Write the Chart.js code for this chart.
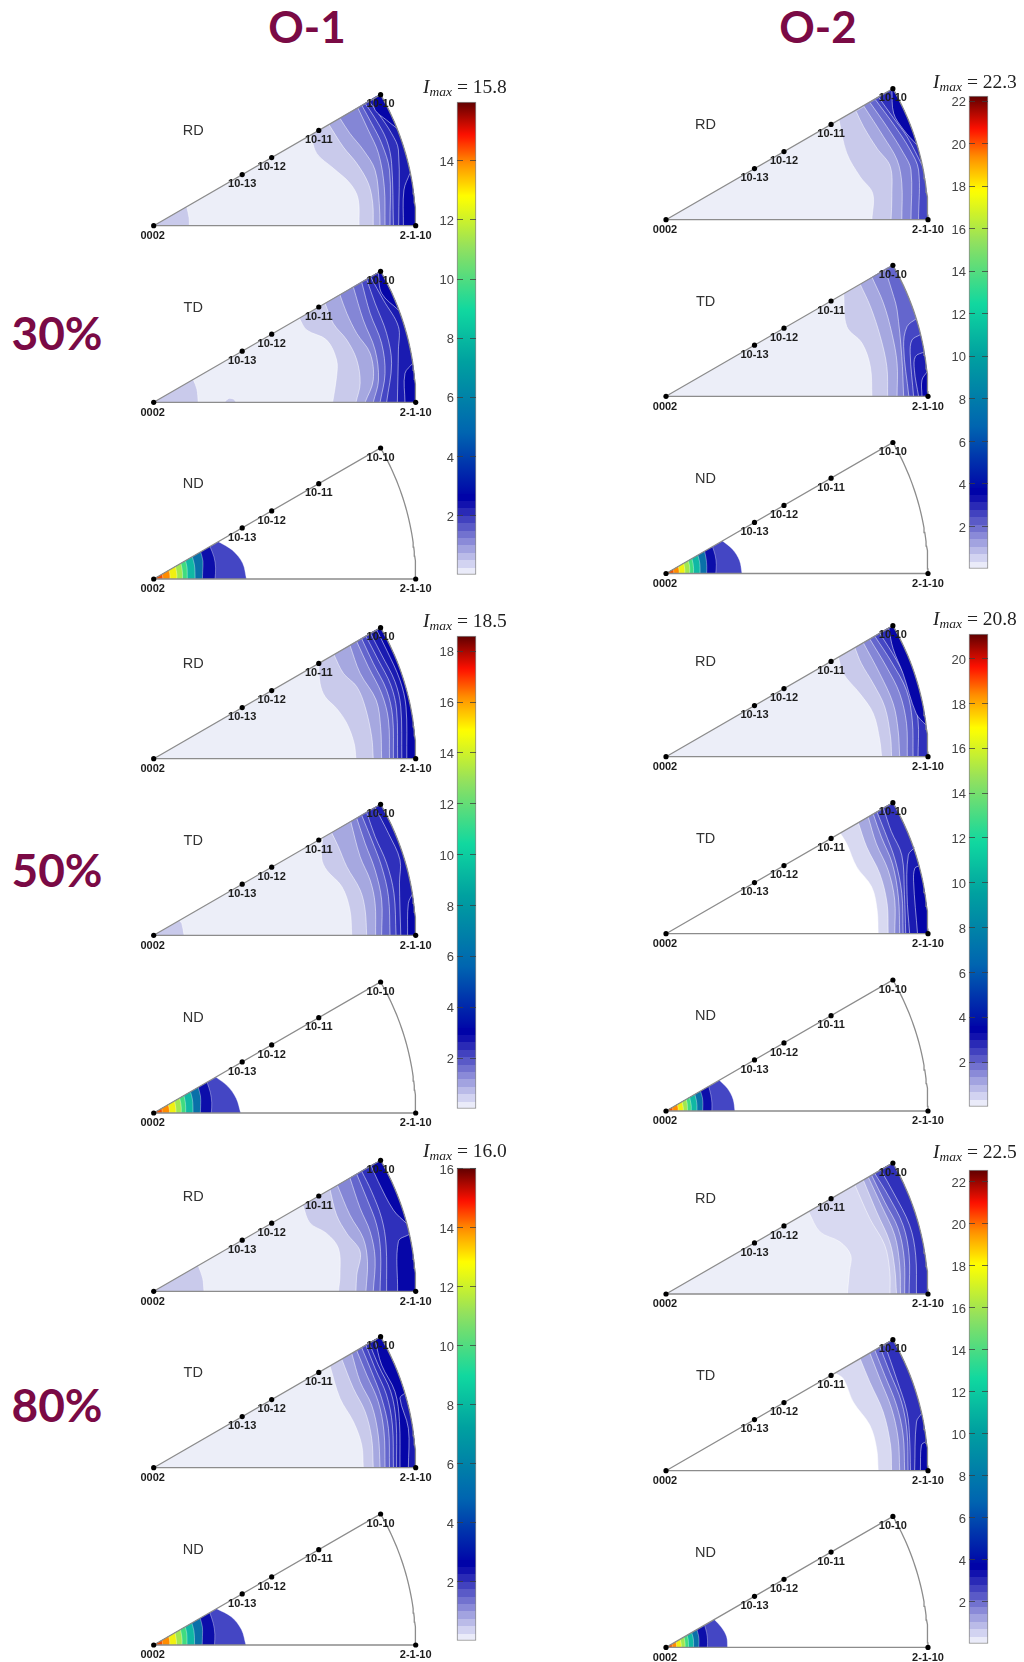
<!DOCTYPE html>
<html>
<head>
<meta charset="utf-8">
<title>Inverse pole figures O-1 / O-2</title>
<script src="https://cdn.jsdelivr.net/npm/chart.js@4/dist/chart.umd.js"></script>
<style>
  html, body { margin: 0; background: #fff; }
  #page { position: relative; width: 1024px; height: 1662px; overflow: hidden; }
  #page canvas { position: absolute; filter: blur(.4px); }
  .head { position: absolute; font: bold 46px Lato, sans-serif; color: #7a0a45; line-height: 46px; transform: translate(-50%, -50%); }
  .head.col { font-size: 44px; }
  .imax { position: absolute; font: 19.5px "Liberation Serif", serif; color: #222; line-height: 20px; white-space: nowrap; }
  .imax sub { font-size: 13.5px; font-style: italic; line-height: 0; vertical-align: -3px; }
</style>
</head>
<body>
<div id="page"></div>
<script>
// contour rows: [shade level, [u,v, u,v, ...], closing]. u,v are read off the figure, unit = radius of the arc
// closing is the arc side by default, 'origin' goes back to 0002, 'patch' closes on itself
const o1_30_rd = [
  [1, [.136,0, .135,.03, .126,.073], 'origin'],
  [1, [.784,0, .78,.104, .749,.162, .686,.219, .622,.276, .60,.346]],
  [2, [.838,0, .836,.085, .819,.162, .775,.238, .724,.30, .669,.386]],
  [3, [.864,0, .861,.085, .845,.212, .80,.289, .749,.352, .711,.41]],
  [4, [.883,0, .88,.149, .858,.276, .819,.365, .779,.45]],
  [5, [.902,0, .90,.212, .87,.314, .832,.39, .794,.46]],
  [6, [.915,0, .908,.238, .889,.327, .845,.41, .807,.467]],
  [7, [.935,0, .934,.289, .908,.352, .857,.429, .823,.473]],
  [8, [.838,.484, .845,.441, .889,.403, .928,.372]],
  [8, [.953,0, .955,.136, .978,.20]]
];
const o1_30_td = [
  [1, [.17,0, .165,.05, .151,.087], 'origin'],
  [1, [.27,0, .285,.014, .305,.012, .315,0], 'patch'],
  [1, [.683,0, .698,.098, .698,.162, .66,.238, .584,.276, .556,.32]],
  [2, [.772,0, .788,.073, .775,.162, .737,.238, .686,.30, .654,.378]],
  [3, [.807,0, .838,.085, .826,.187, .775,.263, .737,.34, .711,.41]],
  [4, [.838,0, .858,.085, .845,.20, .80,.314, .762,.44]],
  [5, [.864,0, .883,.11, .87,.225, .826,.34, .794,.458]],
  [6, [.889,0, .908,.149, .889,.263, .845,.378, .813,.469]],
  [7, [.93,0, .934,.20, .934,.289, .877,.39, .828,.478]],
  [8, [.857,.495, .87,.416, .934,.352]],
  [8, [.959,0, .959,.11, .989,.149]]
];
const o1_30_nd = [
  [.354,.345,.32,.285], [.234,.24,.245,.248], [.186,.19,.2,.207], [.158,.16,.165,.17],
  [.128,.13,.135,.14], [.11,.112,.115,.12], [.088,.09,.092,.096], [.062,.063,.065,.067], [.035,.035,.036,.037]
];
const o2_30_rd = [
  [1, [.786,0, .789,.10, .741,.164, .69,.254, .66,.381]],
  [2, [.859,0, .862,.088, .856,.203, .805,.273, .754,.355, .726,.413]],
  [3, [.90,0, .90,.139, .882,.228, .83,.317, .754,.435]],
  [4, [.935,0, .935,.19, .907,.253, .843,.355, .78,.445]],
  [5, [.964,0, .964,.19, .932,.266, .875,.355, .80,.457]],
  [6, [.811,.468, .869,.387, .92,.317, .98,.203]],
  [8, [.862,.497, .869,.406, .907,.343, .958,.285]]
];
const o2_30_td = [
  [1, [.786,0, .78,.113, .748,.203, .69,.266, .678,.391]],
  [2, [.846,0, .843,.113, .818,.228, .78,.343, .741,.428]],
  [3, [.882,0, .882,.126, .862,.241, .83,.355, .786,.455]],
  [4, [.907,0, .90,.152, .882,.33, .869,.381, .837,.483]],
  [5, [.927,0, .907,.19, .92,.266, .958,.298]],
  [6, [.945,0, .932,.164, .939,.215, .97,.235]],
  [7, [.964,0, .948,.10, .952,.152, .988,.17]],
  [8, [.977,0, .977,.062, .997,.094]]
];
const o2_30_nd = [
  [.29,.285,.27,.249], [.19,.195,.2,.205], [.155,.158,.163,.17], [.13,.132,.136,.14],
  [.105,.107,.11,.114], [.09,.092,.095,.098], [.072,.073,.075,.078], [.05,.051,.052,.054], [.03,.03,.031,.032]
];
const o1_50_rd = [
  [1, [.772,0, .765,.059, .737,.135, .698,.192, .654,.237, .635,.288, .63,.364]],
  [2, [.838,0, .832,.084, .807,.198, .775,.275, .724,.326, .688,.397]],
  [3, [.87,0, .866,.122, .849,.224, .788,.326, .749,.433]],
  [4, [.90,0, .896,.148, .87,.249, .819,.351, .775,.447]],
  [5, [.915,0, .912,.16, .889,.262, .838,.364, .794,.458]],
  [6, [.931,0, .927,.186, .905,.281, .857,.377, .81,.468]],
  [7, [.947,0, .943,.198, .921,.294, .87,.396, .828,.478]],
  [8, [.966,0, .963,.198, .94,.30, .889,.415, .851,.491]]
];
const o1_50_td = [
  [1, [.116,0, .107,.046, .098,.056], 'origin'],
  [1, [.756,0, .749,.097, .718,.186, .66,.249, .641,.294, .645,.372]],
  [2, [.813,0, .807,.097, .788,.173, .737,.262, .705,.338, .679,.392]],
  [3, [.847,0, .845,.122, .826,.211, .788,.30, .752,.434]],
  [4, [.87,0, .87,.135, .845,.249, .807,.351, .775,.447]],
  [5, [.902,0, .896,.148, .87,.262, .832,.364, .794,.458]],
  [6, [.925,0, .917,.16, .889,.275, .845,.377, .813,.469]],
  [7, [.943,0, .938,.20, .94,.288, .896,.389, .845,.488]],
  [8, [.969,0, .972,.122, .989,.16]]
];
const o1_50_nd = [
  [.332,.32,.30,.274], [.22,.225,.23,.235], [.178,.182,.19,.196], [.15,.152,.157,.162],
  [.122,.124,.128,.133], [.105,.107,.11,.114], [.085,.086,.088,.092], [.06,.061,.062,.064], [.033,.033,.034,.035]
];
const o2_50_rd = [
  [1, [.823,0, .816,.063, .791,.165, .74,.241, .677,.317, .658,.38]],
  [2, [.861,0, .857,.076, .835,.19, .791,.279, .746,.355, .721,.416]],
  [3, [.892,0, .886,.101, .867,.203, .816,.317, .753,.435]],
  [4, [.921,0, .918,.127, .892,.241, .842,.342, .778,.449]],
  [5, [.943,0, .94,.139, .918,.253, .861,.361, .797,.46]],
  [6, [.962,0, .962,.139, .937,.253, .88,.368, .816,.471]],
  [8, [.85,.49, .867,.412, .905,.317, .955,.165, .993,.12]]
];
const o2_50_td = [
  [9, [.81,0, .806,.09, .785,.179, .728,.255, .69,.343, .665,.384]],
  [2, [.848,0, .844,.115, .816,.229, .766,.331, .734,.424]],
  [3, [.873,0, .873,.128, .848,.242, .803,.343, .772,.445]],
  [4, [.892,0, .887,.14, .864,.267, .822,.369, .791,.457]],
  [5, [.905,0, .90,.153, .875,.28, .835,.39, .805,.465]],
  [6, [.915,0, .91,.15, .90,.30, .86,.39, .83,.479]],
  [7, [.93,0, .92,.15, .925,.30, .95,.33]],
  [8, [.96,0, .945,.2, .95,.25, .97,.26]]
];
const o2_50_nd = [
  [.263,.26,.25,.235], [.175,.178,.182,.188], [.14,.143,.148,.152], [.118,.12,.123,.127],
  [.096,.098,.1,.104], [.082,.083,.086,.089], [.066,.067,.068,.071], [.046,.047,.048,.05], [.026,.026,.027,.028]
];
const o1_80_rd = [
  [1, [.192,0, .187,.05, .17,.098], 'origin'],
  [1, [.705,0, .711,.062, .705,.164, .66,.221, .597,.26, .569,.328]],
  [2, [.772,0, .775,.062, .788,.151, .737,.221, .698,.291, .673,.388]],
  [3, [.81,0, .816,.113, .80,.202, .749,.291, .701,.405]],
  [4, [.838,0, .845,.126, .826,.228, .788,.317, .749,.433]],
  [5, [.864,0, .866,.151, .851,.253, .813,.355, .775,.447]],
  [6, [.889,0, .887,.177, .87,.279, .832,.38, .794,.458]],
  [8, [.83,.479, .857,.419, .915,.31, .966,.258]],
  [8, [.931,0, .934,.19, .975,.217]]
];
const o1_80_td = [
  [1, [.80,0, .794,.087, .762,.176, .711,.265, .673,.388]],
  [2, [.838,0, .832,.112, .807,.214, .762,.303, .718,.414]],
  [3, [.864,0, .857,.125, .832,.239, .788,.328, .756,.436]],
  [4, [.883,0, .879,.137, .857,.252, .813,.354, .775,.447]],
  [5, [.90,0, .896,.15, .87,.265, .832,.366, .794,.458]],
  [6, [.915,0, .911,.163, .889,.277, .845,.379, .81,.468]],
  [7, [.927,0, .925,.176, .905,.29, .857,.392, .823,.475]],
  [8, [.94,0, .938,.176, .921,.29, .87,.392, .845,.488]],
  [7, [.972,0, .972,.15, .94,.265, .959,.285]]
];
const o1_80_nd = [
  [.352,.34,.315,.277], [.232,.237,.242,.247], [.185,.189,.198,.205], [.156,.158,.163,.168],
  [.127,.129,.134,.139], [.108,.11,.113,.118], [.087,.088,.09,.094], [.061,.062,.064,.066], [.034,.034,.035,.036]
];
const o2_80_rd = [
  [9, [.692,0, .70,.085, .705,.148, .664,.199, .588,.237, .544,.314]],
  [1, [.855,0, .854,.085, .835,.186, .778,.288, .721,.416]],
  [2, [.88,0, .873,.098, .854,.199, .804,.313, .753,.435]],
  [3, [.895,0, .892,.11, .873,.224, .822,.338, .772,.446]],
  [4, [.911,0, .909,.136, .886,.25, .835,.351, .785,.453]],
  [5, [.928,0, .928,.148, .905,.262, .848,.376, .797,.46]],
  [6, [.956,0, .953,.148, .93,.262, .867,.389, .82,.473]]
];
const o2_80_td = [
  [9, [.81,0, .804,.085, .778,.174, .715,.262, .677,.351, .645,.373]],
  [2, [.861,0, .857,.098, .829,.224, .778,.338, .741,.427]],
  [3, [.892,0, .886,.123, .861,.237, .816,.351, .778,.449]],
  [4, [.911,0, .905,.136, .88,.25, .835,.364, .797,.46]],
  [5, [.924,0, .92,.148, .899,.262, .854,.376, .817,.472]],
  [6, [.933,0, .93,.12, .92,.224, .88,.351, .835,.482]],
  [7, [.949,0, .956,.186, .975,.218]],
  [8, [.971,0, .975,.098, .99,.11]]
];
const o2_80_nd = [
  [.235,.235,.225,.213], [.158,.161,.165,.17], [.125,.128,.132,.136], [.105,.107,.11,.113],
  [.086,.087,.09,.093], [.073,.074,.076,.079], [.058,.059,.06,.062], [.04,.041,.042,.043], [.024,.024,.025,.026]
];

const ndAngles = [0, 10, 20, 30];
const poleNames = ["0002", "10-13", "10-12", "10-11", "10-10", "2-1-10"];
const poleRadius = [0, .39, .52, .7275, 1, 1];
const poleAngle = [0, 30, 30, 30, 30, 0];
const panelNames = ["RD", "TD", "ND"];

const imaxLabels = ["15.8", "22.3", "18.5", "20.8", "16.0", "22.5"];
const barMax = [15.98, 22.25, 18.6, 21.1, 16.02, 22.55];

const shades = ["#ECEEF8", "#C9CAEB", "#A6A8E0", "#8486D6", "#6466CD", "#4547C4", "#2F30BB", "#1A1BB1", "#0606A8", "#D8D9F1"];
const ndColors = ["#4446C4", "#0C0EAA", "#0A70A8", "#10B8A4", "#40DC80", "#A0E850", "#F0F010", "#FF8C00", "#F05000"];
const mapStops = [[0, "#F6F7FD"], [.16, "#0000A8"], [.3, "#0064B0"], [.45, "#00A0A0"], [.56, "#10D8A0"], [.69, "#90E060"],
  [.8, "#FFFF00"], [.87, "#FF9000"], [.93, "#FF1000"], [1, "#600000"]];

const groups = [
  [o1_30_rd, o1_30_td, o1_30_nd], [o2_30_rd, o2_30_td, o2_30_nd],
  [o1_50_rd, o1_50_td, o1_50_nd], [o2_50_rd, o2_50_td, o2_50_nd],
  [o1_80_rd, o1_80_td, o1_80_nd], [o2_80_rd, o2_80_td, o2_80_nd]
];
// white background for the two O-2 TD panels that have no lowest band
const whiteBase = [o2_50_td, o2_80_td];

// page layout
const originX = [153.7, 666];
const originY = [
  [225.7, 402.3, 579], [219.7, 396.3, 573.5],
  [758.7, 935.3, 1113], [756.7, 933.7, 1111],
  [1291.3, 1467.7, 1645], [1294, 1470.7, 1647.4]
];
const barBox = [[102, 575.3], [95.7, 569], [636, 1109], [634, 1107], [1168, 1641], [1170, 1643.5]];
const barX = [457, 969];
const imaxPos = [[423, 77], [933, 72], [423, 611], [933, 609], [423, 1141], [933, 1142]];
const radiusPx = 262;

const page = document.getElementById("page");
const rad = d => d * Math.PI / 180;
const pt = (r, deg) => ({ x: r * Math.cos(rad(deg)), y: r * Math.sin(rad(deg)) });

function newCanvas(left, top, w, h) {
  const c = document.createElement("canvas");
  c.width = w; c.height = h;
  c.style.left = left + "px"; c.style.top = top + "px";
  c.style.width = w + "px"; c.style.height = h + "px";
  page.appendChild(c);
  return c;
}

function arcPoints(from, to) {
  const out = [];
  const n = Math.max(2, Math.ceil(Math.abs(to - from)) + 1);
  for (let i = 0; i < n; i++) out.push(pt(1, from + (to - from) * i / (n - 1)));
  return out;
}

function toPoints(flat) {
  const out = [];
  for (let i = 0; i < flat.length; i += 2) out.push({ x: flat[i], y: flat[i + 1] });
  return out;
}

function fillSet(data, color, tension) {
  return { data, showLine: true, fill: "shape", backgroundColor: color, borderWidth: 0, pointRadius: 0, tension };
}

function lineSet(data, color, width, tension) {
  return { data, showLine: true, fill: false, borderColor: color, borderWidth: width, pointRadius: 0, tension };
}

function contourSets(rows, base) {
  const sets = [];
  if (base) sets.push(fillSet([{ x: 0, y: 0 }, ...arcPoints(0, 30)], base, 0));
  rows.forEach(([level, flat, closing]) => {
    const line = toPoints(flat);
    const first = line[0], last = line[line.length - 1];
    let shape;
    if (closing === "origin") shape = [{ x: 0, y: 0 }, first, ...line, last];
    else if (closing === "patch") shape = [first, ...line, last];
    else {
      const a0 = Math.atan2(first.y, first.x) * 180 / Math.PI;
      const a1 = Math.atan2(last.y, last.x) * 180 / Math.PI;
      shape = [first, ...line, last, ...arcPoints(a1, a0)];
    }
    sets.push(fillSet(shape, shades[level], .35));
    sets.push(lineSet(line, "rgba(255,255,255,.5)", 1, .35));
  });
  return sets;
}

function ringSets(rings) {
  const sets = [];
  rings.forEach((radii, i) => {
    const line = radii.map((r, k) => pt(r, ndAngles[k]));
    const first = line[0], last = line[line.length - 1];
    sets.push(fillSet([{ x: 0, y: 0 }, first, ...line, last], ndColors[i], .35));
    sets.push(lineSet(line, "rgba(255,255,255,.35)", 1, .35));
  });
  return sets;
}

function drawPanel(rows, name, ox, oy) {
  const W = 320, H = 172;
  const left = Math.round(ox - 40), top = Math.round(oy - 150);
  const xMin = -(ox - left) / radiusPx;
  const yMax = (oy - top) / radiusPx;
  const isNd = name === "ND";
  const base = isNd || whiteBase.includes(rows) ? null : shades[0];
  const sets = isNd ? ringSets(rows) : contourSets(rows, base);
  // wedge outline
  sets.push(lineSet([{ x: 0, y: 0 }, ...arcPoints(0, 30), { x: 0, y: 0 }], "#8c8c8c", 1.3, 0));
  // pole dots
  sets.push({
    data: poleRadius.map((r, i) => pt(r, poleAngle[i])),
    showLine: false, pointRadius: 2.6, pointBackgroundColor: "#000", pointBorderWidth: 0
  });
  sets.forEach((s, i) => { s.order = sets.length - i; s.clip = false; });

  new Chart(newCanvas(left, top, W, H), {
    type: "scatter",
    data: { datasets: sets },
    options: {
      responsive: false, animation: false,
      layout: { padding: 0, autoPadding: false },
      plugins: { legend: { display: false }, tooltip: { enabled: false } },
      scales: {
        x: { type: "linear", display: false, bounds: "data", min: xMin, max: xMin + W / radiusPx },
        y: { type: "linear", display: false, bounds: "data", min: yMax - H / radiusPx, max: yMax }
      }
    },
    plugins: [{
      id: "ipfText",
      afterDatasetsDraw(chart) {
        const { ctx, scales } = chart;
        ctx.save();
        ctx.fillStyle = "#1c1c1c";
        ctx.font = 'bold 11px "Liberation Sans", Arial, sans-serif';
        ctx.textAlign = "center"; ctx.textBaseline = "middle";
        poleNames.forEach((label, i) => {
          const p = pt(poleRadius[i], poleAngle[i]);
          const low = poleAngle[i] === 0;
          ctx.fillText(label, scales.x.getPixelForValue(p.x) - (i === 0 ? 1 : 0), scales.y.getPixelForValue(p.y) + (low ? 10.3 : 9.7));
        });
        ctx.fillStyle = "#333";
        ctx.font = '14.5px "Liberation Sans", Arial, sans-serif';
        ctx.fillText(name, scales.x.getPixelForValue(.151), scales.y.getPixelForValue(.365) + 1);
        ctx.restore();
      }
    }]
  });
}

function hexMix(a, b, t) {
  const ch = (h, i) => parseInt(h.substr(1 + i * 2, 2), 16);
  const c = [0, 1, 2].map(i => Math.round(ch(a, i) + (ch(b, i) - ch(a, i)) * t));
  return "rgb(" + c.join(",") + ")";
}

function mapColor(f) {
  for (let i = 1; i < mapStops.length; i++) {
    if (f <= mapStops[i][0]) {
      const [f0, c0] = mapStops[i - 1], [f1, c1] = mapStops[i];
      return hexMix(c0, c1, (f - f0) / (f1 - f0));
    }
  }
  return mapStops[mapStops.length - 1][1];
}

// stepped at the pale end, smooth above it, like the reference colour bars
function barGradient(context) {
  const { chart } = context;
  const area = chart.chartArea;
  if (!area) return "#000";
  const g = chart.ctx.createLinearGradient(0, area.bottom, 0, area.top);
  const steps = 64, stepped = 11;
  for (let i = 0; i < stepped; i++) {
    const c = mapColor((i + .5) / steps);
    g.addColorStop(i / steps, c);
    g.addColorStop((i + 1) / steps, c);
  }
  for (let f = stepped / steps; f < 1; f += .01) g.addColorStop(f, mapColor(f));
  g.addColorStop(1, mapColor(1));
  return g;
}

function drawBar(i) {
  const pad = 11, labelRoom = 30;
  const [top, bottom] = barBox[i];
  const h = Math.round(bottom - top);
  const x = barX[i % 2];
  new Chart(newCanvas(x - labelRoom, Math.round(top) - pad, labelRoom + 20, h + pad * 2), {
    type: "bar",
    data: {
      labels: ["I"],
      datasets: [{
        data: [[0, barMax[i]]],
        backgroundColor: barGradient,
        borderColor: "#8a8a8a", borderWidth: 1, borderSkipped: false,
        barPercentage: 1, categoryPercentage: 1, clip: false
      }]
    },
    options: {
      responsive: false, animation: false,
      layout: { padding: { top: pad, bottom: pad, right: 1, left: 0 }, autoPadding: false },
      plugins: { legend: { display: false }, tooltip: { enabled: false } },
      scales: {
        x: { display: false },
        y: {
          min: 0, max: barMax[i], bounds: "data",
          afterFit(scale) { scale.width = labelRoom; },
          grid: {
            drawTicks: false, z: 1,
            color: c => (c.tick && c.tick.value === 0 ? "rgba(0,0,0,0)" : "rgba(60,60,60,.75)")
          },
          border: { display: false, dash: [6, 7] },
          ticks: {
            stepSize: 2, padding: 3, color: "#444", includeBounds: false, labelOffset: 1.5,
            font: { family: '"Liberation Sans", Arial, sans-serif', size: 13 },
            callback: v => (v === 0 ? "" : v)
          }
        }
      }
    }
  });
}

function addText(cls, html, x, y) {
  const d = document.createElement("div");
  d.className = cls;
  d.innerHTML = html;
  d.style.left = x + "px"; d.style.top = y + "px";
  page.appendChild(d);
}

groups.forEach((group, g) => {
  group.forEach((rows, k) => drawPanel(rows, panelNames[k], originX[g % 2], originY[g][k]));
  drawBar(g);
  addText("imax", "<i>I<sub>max</sub></i> = " + imaxLabels[g], imaxPos[g][0], imaxPos[g][1]);
});

addText("head col", "O-1", 307, 26);
addText("head col", "O-2", 818, 26);
addText("head", "30%", 57, 333);
addText("head", "50%", 57, 870);
addText("head", "80%", 57, 1405);
</script>
</body>
</html>
